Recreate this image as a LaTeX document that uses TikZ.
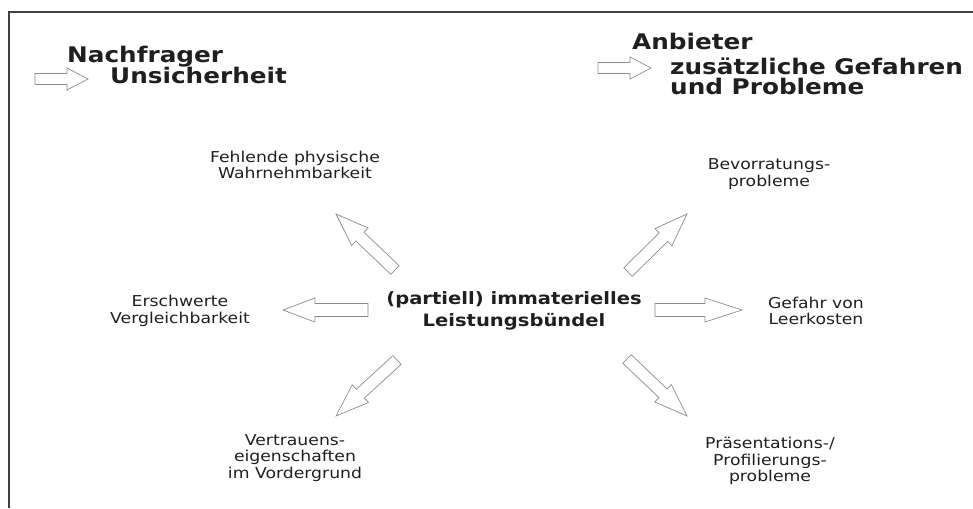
\documentclass[tikz,border=0pt]{standalone}
\usepackage{fontspec}
\setmainfont{DejaVu Sans}[FakeStretch=1.15]
\usetikzlibrary{calc}
\definecolor{txt}{gray}{0.12}
\definecolor{arrline}{gray}{0.55}
\definecolor{frameline}{gray}{0.25}
\tikzset{
  lbl/.style={align=center, inner sep=0pt, text=txt, font=\fontsize{15}{16.5}\selectfont},
  ctr/.style={align=center, inner sep=0pt, text=txt, font=\fontsize{17}{22}\selectfont\bfseries},
  ttl/.style={anchor=base west, align=left, inner sep=0pt, text=txt, font=\fontsize{21.5}{20}\selectfont\bfseries},
  blockline/.style={draw=arrline, line width=0.7pt, line join=miter, fill=white},
  frameline/.style={draw=frameline, line width=1.6pt}
}
% #1 tail, #2 tip, #3 body half width, #4 head half width, #5 head length
\newcommand{\blockarr}[5]{%
  \coordinate (hb) at ($(#2)!#5!(#1)$);
  \draw[blockline] ($(#1)!#3!90:(#2)$) -- ($(hb)!#3!90:(#2)$) -- ($(hb)!#4!90:(#2)$)
    -- (#2) -- ($(hb)!#4!-90:(#2)$) -- ($(hb)!#3!-90:(#2)$) -- ($(#1)!#3!-90:(#2)$) -- cycle;
}
\begin{document}
\begin{tikzpicture}[x=1pt, y=-1pt]
\useasboundingbox (0,0) rectangle (973,508);
\draw[frameline] (9,508) -- (9,12) -- (973,12);

% titles
\node[ttl] (nach) at (67,63) {Nachfrager};
\node[ttl] (unsi) at (110,84) {Unsicherheit};
\node[ttl] (anb) at (632,50) {Anbieter};
\node[ttl] (zus) at (670,95) {zus\"atzliche Gefahren\\und Probleme};

\coordinate (la1) at (35,79);
\coordinate (la2) at (88,79);
\coordinate (ra1) at (598,68);
\coordinate (ra2) at (651,68);
\blockarr{la1}{la2}{5.5pt}{11pt}{21pt}
\blockarr{ra1}{ra2}{5.5pt}{11pt}{21pt}

% centre and labels
\node[ctr] (c) at (514,311) {(partiell) immaterielles\\Leistungsb\"undel};
\node[lbl] (fehl) at (295,165) {Fehlende physische\\Wahrnehmbarkeit};
\node[lbl] (bev) at (769,174) {Bevorratungs-\\probleme};
\node[lbl] (ersch) at (180,311) {Erschwerte\\Vergleichbarkeit};
\node[lbl] (gef) at (816,311) {Gefahr von\\Leerkosten};
\node[lbl] (vert) at (295,458) {Vertrauens-\\eigenschaften\\im Vordergrund};
\node[lbl] (pres) at (770,461) {Pr\"asentations-/\\Profilierungs-\\probleme};

% arrow end points
\coordinate (wT) at (368,310); \coordinate (wH) at (283,310);
\coordinate (eT) at (655,310); \coordinate (eH) at (742,310);
\coordinate (nwT) at (395,270); \coordinate (nwH) at (336,214);
\coordinate (neT) at (628,272); \coordinate (neH) at (687,214);
\coordinate (swT) at (397,360); \coordinate (swH) at (336,416);
\coordinate (seT) at (627,359); \coordinate (seH) at (687,416);

\blockarr{wT}{wH}{6.5pt}{12pt}{32pt}
\blockarr{eT}{eH}{6.5pt}{12pt}{37pt}
\blockarr{nwT}{nwH}{6pt}{12pt}{33pt}
\blockarr{neT}{neH}{6pt}{12pt}{33pt}
\blockarr{swT}{swH}{6pt}{12pt}{33pt}
\blockarr{seT}{seH}{6pt}{12pt}{33pt}
\end{tikzpicture}
\end{document}
